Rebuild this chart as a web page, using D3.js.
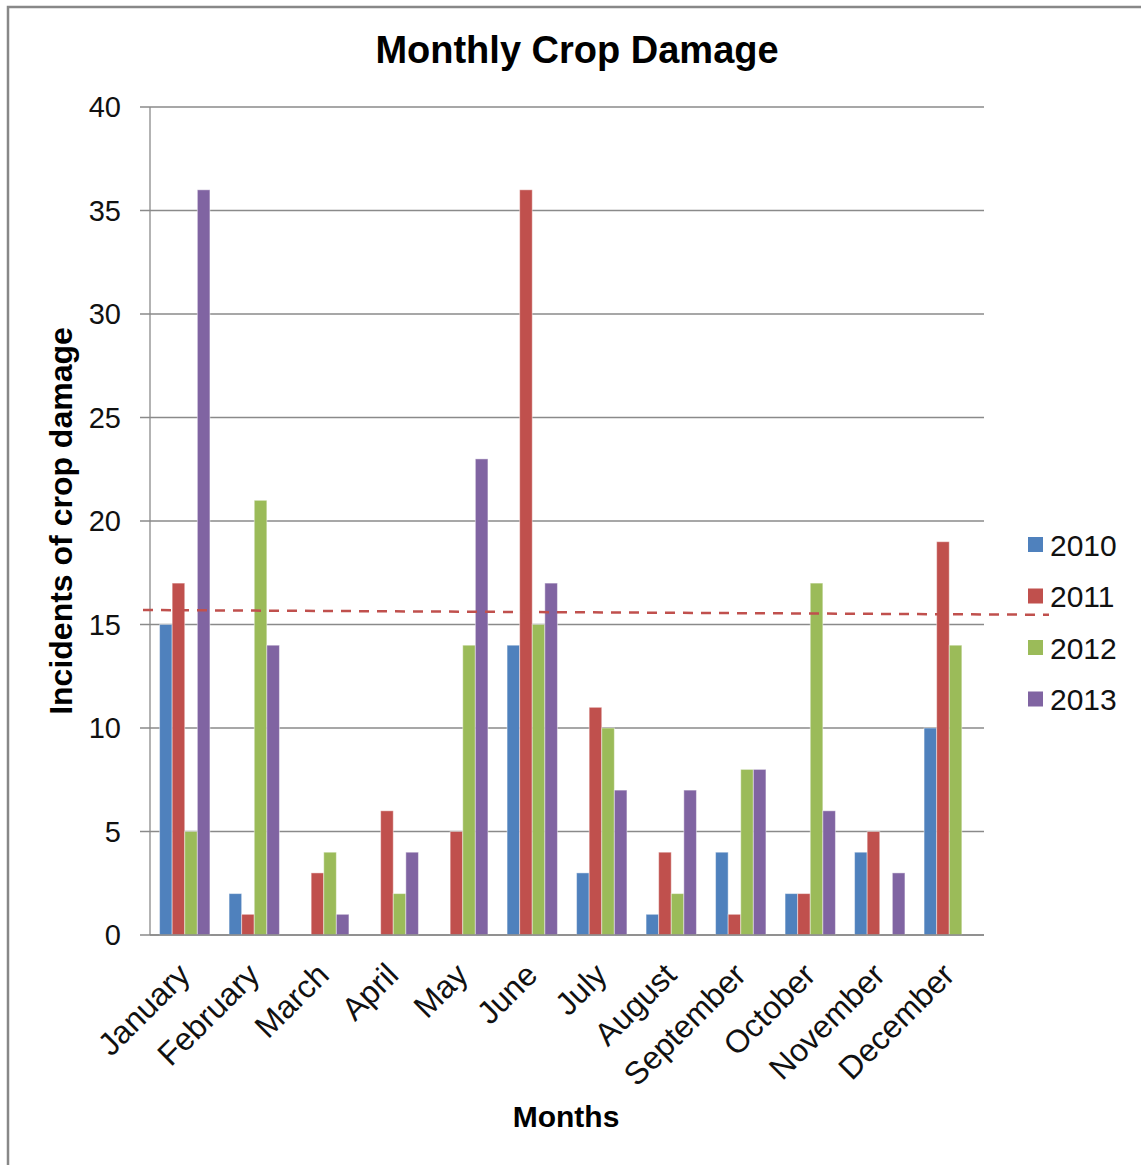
<!DOCTYPE html>
<html>
<head>
<meta charset="utf-8">
<script src="https://cdn.jsdelivr.net/npm/d3@7/dist/d3.min.js"></script>
<style>
  html, body { margin: 0; padding: 0; background: #fff; }
  svg { display: block; font-family: "Liberation Sans", Arial, sans-serif; }
</style>
</head>
<body>
<svg id="chart" width="1141" height="1165"></svg>
<script>
// Monthly incidents of crop damage, one series per year
const months = ["January", "February", "March", "April", "May", "June",
                "July", "August", "September", "October", "November", "December"];
const years = ["2010", "2011", "2012", "2013"];
const values2010 = [15, 2, 0, 0, 0, 14, 3, 1, 4, 2, 4, 10];
const values2011 = [17, 1, 3, 6, 5, 36, 11, 4, 1, 2, 5, 19];
const values2012 = [5, 21, 4, 2, 14, 15, 10, 2, 8, 17, 0, 14];
const values2013 = [36, 14, 1, 4, 23, 17, 7, 7, 8, 6, 3, 0];
const yTicks = [0, 5, 10, 15, 20, 25, 30, 35, 40];
// reference level (dashed), value at its left and right ends
const refLine = [15.7, 15.47];

const seriesValues = [values2010, values2011, values2012, values2013];
const colors = ["#4F81BD", "#C0504D", "#9BBB59", "#8064A2"];

const svg = d3.select("#chart");

// outer frame
svg.append("rect")
  .attr("x", 8).attr("y", 7)
  .attr("width", 1160).attr("height", 1180)
  .attr("fill", "none")
  .attr("stroke", "#888")
  .attr("stroke-width", 2.5);

const plot = { left: 150, right: 984, top: 107, bottom: 935 };

const x0 = d3.scaleBand().domain(months).range([plot.left, plot.right]).padding(0);
const x1 = d3.scaleBand().domain(years).range([0, x0.bandwidth()])
  .paddingInner(0).paddingOuter(0.76);
const y = d3.scaleLinear().domain([0, 40]).range([plot.bottom, plot.top]);

// horizontal gridlines with the left tick stub
svg.append("g").selectAll("line").data(yTicks).join("line")
  .attr("x1", plot.left - 10).attr("x2", plot.right)
  .attr("y1", d => y(d)).attr("y2", d => y(d))
  .attr("stroke", "#8a8a8a").attr("stroke-width", 1.3);

// value axis line
svg.append("line")
  .attr("x1", plot.left).attr("x2", plot.left)
  .attr("y1", y(40)).attr("y2", y(0))
  .attr("stroke", "#8a8a8a").attr("stroke-width", 1.3);

// value axis labels
svg.append("g").selectAll("text").data(yTicks).join("text")
  .attr("x", plot.left - 29)
  .attr("y", d => y(d))
  .attr("dy", "0.36em")
  .attr("text-anchor", "end")
  .attr("font-size", 29)
  .attr("fill", "#111")
  .text(d => d);

// bars
const rows = months.map((m, i) => ({ month: m, vals: seriesValues.map(s => s[i]) }));
const groups = svg.append("g").selectAll("g").data(rows).join("g")
  .attr("transform", d => `translate(${x0(d.month)},0)`);
groups.selectAll("rect")
  .data(d => d.vals.map((v, k) => ({ year: years[k], value: v, k })).filter(e => e.value > 0))
  .join("rect")
  .attr("x", d => x1(d.year))
  .attr("width", x1.bandwidth())
  .attr("y", d => y(d.value))
  .attr("height", d => y(0) - y(d.value))
  .attr("fill", d => colors[d.k])
  .attr("stroke", "rgba(255,255,255,0.45)")
  .attr("stroke-width", 1);

// category axis line drawn over bar bottoms
svg.append("line")
  .attr("x1", plot.left).attr("x2", plot.right)
  .attr("y1", y(0)).attr("y2", y(0))
  .attr("stroke", "#8a8a8a").attr("stroke-width", 1.3);

// month labels, rotated
svg.append("g").selectAll("text").data(months).join("text")
  .attr("transform", d => `translate(${x0(d) + x0.bandwidth() / 2 + 7},${plot.bottom + 42}) rotate(-45)`)
  .attr("text-anchor", "end")
  .attr("font-size", 32)
  .attr("fill", "#111")
  .text(d => d);

// dashed reference line running into the legend area
const legendX = 1028;
svg.append("line")
  .attr("x1", plot.left - 7).attr("x2", legendX + 21)
  .attr("y1", y(refLine[0])).attr("y2", y(refLine[1]))
  .attr("stroke", "#C0504D")
  .attr("stroke-width", 2.5)
  .attr("stroke-dasharray", "10 8");

// legend
const legend = svg.append("g").selectAll("g").data(years).join("g")
  .attr("transform", (d, i) => `translate(${legendX},${545 + i * 51.5})`);
legend.append("rect")
  .attr("x", 0).attr("y", -8).attr("width", 15).attr("height", 15)
  .attr("fill", (d, i) => colors[i]);
legend.append("text")
  .attr("x", 22).attr("y", 0).attr("dy", "0.36em")
  .attr("font-size", 30).attr("fill", "#111")
  .text(d => d);

// title and axis titles
svg.append("text")
  .attr("x", 577).attr("y", 63)
  .attr("text-anchor", "middle")
  .attr("font-size", 38).attr("font-weight", "bold")
  .text("Monthly Crop Damage");

svg.append("text")
  .attr("transform", "translate(72,521) rotate(-90)")
  .attr("text-anchor", "middle")
  .attr("font-size", 32).attr("font-weight", "bold")
  .text("Incidents of crop damage");

svg.append("text")
  .attr("x", 566).attr("y", 1127)
  .attr("text-anchor", "middle")
  .attr("font-size", 30).attr("font-weight", "bold")
  .text("Months");
</script>
</body>
</html>
